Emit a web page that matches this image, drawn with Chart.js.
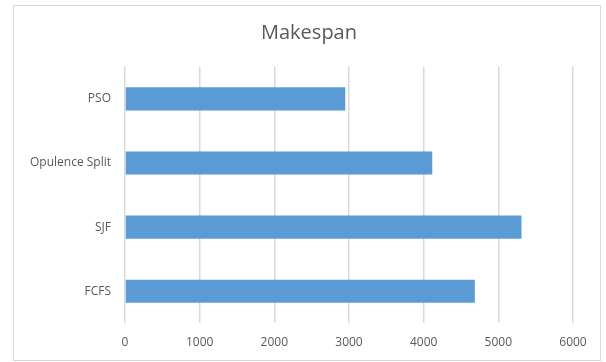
<!DOCTYPE html>
<html>
<head>
<meta charset="utf-8">
<script src="https://cdn.jsdelivr.net/npm/chart.js@4/dist/chart.umd.min.js"></script>
<style>
  html, body { margin: 0; padding: 0; background: #fff; }
  #wrap { position: relative; width: 606px; height: 362px; }
</style>
</head>
<body>
<div id="wrap"><canvas id="makespanChart" width="606" height="362"></canvas></div>
<script>
  const chartTitle = 'Makespan';
  const categories = ['PSO', 'Opulence Split', 'SJF', 'FCFS'];
  const makespanValues = [2950, 4115, 5310, 4685];
  const xTicks = [0, 1000, 2000, 3000, 4000, 5000, 6000];

  const textColor = '#595959';
  const gridColor = '#d9d9d9';
  const barColor = '#5b9bd5';

  // light frame around the whole chart plus the title, centred on the page
  // (the built-in title would centre over the padded box instead)
  const framePlugin = {
    id: 'frame',
    beforeDraw: function (chart) {
      const ctx = chart.ctx;
      ctx.save();
      ctx.fillStyle = '#fff';
      ctx.fillRect(0, 0, chart.width, chart.height);
      ctx.strokeStyle = '#d9d9d9';
      ctx.lineWidth = 1;
      ctx.strokeRect(13.5, 5.5, 587, 355);
      ctx.restore();
    },
    afterDraw: function (chart) {
      const ctx = chart.ctx;
      ctx.save();
      ctx.fillStyle = textColor;
      ctx.font = '20px "Open Sans"';
      ctx.textAlign = 'center';
      ctx.textBaseline = 'middle';
      ctx.fillText(chartTitle, 309, 33);
      ctx.restore();
    },
  };

  new Chart(document.getElementById('makespanChart'), {
    type: 'bar',
    data: {
      labels: categories,
      datasets: [
        {
          label: chartTitle,
          data: makespanValues,
          backgroundColor: barColor,
          borderWidth: 0,
          categoryPercentage: 1,
          barPercentage: 0.36,
        },
      ],
    },
    options: {
      indexAxis: 'y',
      responsive: false,
      animation: false,
      layout: { padding: { left: 0, right: 33, top: 66.8, bottom: 0 } },
      plugins: {
        legend: { display: false },
        tooltip: { enabled: false },
        title: { display: false },
      },
      scales: {
        x: {
          min: 0,
          max: 6000,
          afterBuildTicks: function (scale) {
            scale.ticks = xTicks.map(function (v) { return { value: v }; });
          },
          afterFit: function (scale) { scale.height = 38.7; },
          border: { display: false },
          grid: { color: gridColor, lineWidth: 1.5, drawTicks: false },
          ticks: {
            color: textColor,
            padding: 12,
            font: { family: 'Open Sans', size: 12 },
            callback: function (value) { return String(value); },
          },
        },
        y: {
          afterFit: function (scale) { scale.width = 125; },
          border: { display: false },
          grid: { display: false, drawTicks: false },
          ticks: {
            color: textColor,
            padding: 14,
            font: { family: 'Open Sans', size: 12 },
          },
        },
      },
    },
    plugins: [framePlugin],
  });
</script>
</body>
</html>
